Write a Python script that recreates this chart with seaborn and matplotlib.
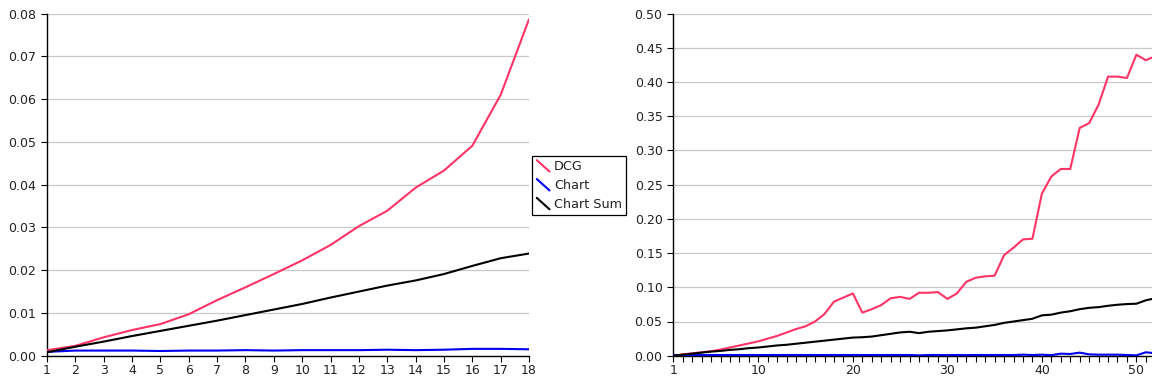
import matplotlib
matplotlib.use("Agg")
import matplotlib.pyplot as plt
from matplotlib.legend_handler import HandlerBase
from matplotlib.lines import Line2D
from matplotlib.ticker import FormatStrFormatter, FixedLocator, MultipleLocator
import pandas as pd
import seaborn as sns

# ---- data: short run (left panel) ----
short_x = list(range(1, 19))
short_dcg = [0.0013, 0.0023, 0.0043, 0.0060, 0.0074, 0.0097, 0.0130, 0.0160, 0.0191,
             0.0223, 0.0259, 0.0303, 0.0339, 0.0393, 0.0433, 0.0491, 0.0610, 0.0787]
short_chart = [0.0009, 0.0012, 0.0012, 0.0012, 0.0011, 0.0012, 0.0012, 0.0013, 0.0012,
               0.0013, 0.0013, 0.0013, 0.0014, 0.0013, 0.0014, 0.0016, 0.0016, 0.0015]
short_sum = [0.0008, 0.0021, 0.0033, 0.0046, 0.0058, 0.0070, 0.0082, 0.0095, 0.0108,
             0.0121, 0.0136, 0.0150, 0.0164, 0.0176, 0.0191, 0.0210, 0.0228, 0.0239]

# ---- data: long run (right panel) ----
long_x = list(range(1, 53))
long_dcg = [0.000, 0.002, 0.0035, 0.005, 0.0065, 0.009, 0.012, 0.015, 0.018, 0.021,
            0.025, 0.029, 0.034, 0.039, 0.043, 0.050, 0.061, 0.079, 0.085, 0.091,
            0.063, 0.068, 0.074, 0.084, 0.086, 0.083, 0.092, 0.092, 0.093, 0.083,
            0.091, 0.108, 0.114, 0.116, 0.117, 0.147, 0.158, 0.170, 0.171, 0.237,
            0.262, 0.273, 0.273, 0.333, 0.340, 0.367, 0.408, 0.408, 0.406, 0.440,
            0.432, 0.438]
long_chart = [0.0005, 0.001, 0.001, 0.001, 0.001, 0.001, 0.001, 0.001, 0.001, 0.001,
              0.001, 0.001, 0.001, 0.001, 0.001, 0.001, 0.001, 0.001, 0.001, 0.001,
              0.001, 0.001, 0.001, 0.001, 0.001, 0.001, 0.0005, 0.001, 0.001, 0.0008,
              0.001, 0.0008, 0.001, 0.001, 0.001, 0.001, 0.001, 0.0015, 0.001, 0.0015,
              0.0008, 0.003, 0.0025, 0.0045, 0.002, 0.0015, 0.0015, 0.0015, 0.001, 0.0005,
              0.005, 0.0035]
long_sum = [0.000, 0.0015, 0.003, 0.0045, 0.006, 0.007, 0.0085, 0.0095, 0.011, 0.012,
            0.0135, 0.015, 0.016, 0.0175, 0.019, 0.0205, 0.022, 0.0235, 0.025, 0.0265,
            0.027, 0.028, 0.030, 0.032, 0.034, 0.035, 0.033, 0.035, 0.036, 0.037,
            0.0385, 0.040, 0.041, 0.043, 0.045, 0.048, 0.050, 0.052, 0.054, 0.059,
            0.060, 0.063, 0.065, 0.068, 0.070, 0.071, 0.073, 0.0745, 0.0755, 0.076,
            0.081, 0.084]

series_names = ["DCG", "Chart", "Chart Sum"]
colors = {"DCG": "#ff3366", "Chart": "#0000ee", "Chart Sum": "#000000"}


def long_form(x, dcg, chart, total):
    return pd.DataFrame({
        "x": list(x) * 3,
        "value": list(dcg) + list(chart) + list(total),
        "series": ["DCG"] * len(x) + ["Chart"] * len(x) + ["Chart Sum"] * len(x),
    })


short_df = long_form(short_x, short_dcg, short_chart, short_sum)
long_df = long_form(long_x, long_dcg, long_chart, long_sum)

sns.set_theme(style="white", rc={
    "xtick.bottom": True, "ytick.left": True,
    "xtick.direction": "out", "ytick.direction": "out",
    "xtick.major.size": 4, "xtick.minor.size": 4,
    "ytick.major.size": 4.5, "ytick.minor.size": 0,
    "xtick.major.width": 0.8, "xtick.minor.width": 0.8,
    "ytick.major.width": 0.8,
    "xtick.color": "#000000", "ytick.color": "#000000",
    "xtick.labelcolor": "#222222", "ytick.labelcolor": "#222222",
    "xtick.labelsize": 9, "ytick.labelsize": 9,
    "xtick.major.pad": 2, "xtick.minor.pad": 2, "ytick.major.pad": 3.2,
})
plt.rcParams["font.family"] = ["DejaVu Sans"]

fig = plt.figure(figsize=(11.52, 3.84), dpi=100)
W, H = 1152, 384
ax1 = fig.add_axes([47 / W, (H - 355.7) / H, 482 / W, 342 / H])
ax2 = fig.add_axes([673.3 / W, (H - 355.7) / H, 482 / W, 342 / H])

for ax, df in ((ax1, short_df), (ax2, long_df)):
    sns.lineplot(data=df, x="x", y="value", hue="series", hue_order=series_names,
                 palette=colors, linewidth=1.5, legend=False, ax=ax, zorder=3)
    ax.set_xlabel("")
    ax.set_ylabel("")
    ax.grid(axis="y", color="#c8c8c8", linewidth=0.9)
    ax.grid(axis="x", visible=False)
    ax.set_axisbelow(True)
    for side in ("top", "right"):
        ax.spines[side].set_visible(False)
    for side in ("left", "bottom"):
        ax.spines[side].set_color("#000000")
        ax.spines[side].set_linewidth(1.0)
    ax.yaxis.set_major_formatter(FormatStrFormatter("%.2f"))

ax1.set_xlim(1, 18)
ax1.set_ylim(0, 0.08)
ax1.xaxis.set_major_locator(FixedLocator(short_x))
ax1.yaxis.set_major_locator(MultipleLocator(0.01))

ax2.set_xlim(1, 52)
ax2.set_ylim(0, 0.5)
ax2.xaxis.set_major_locator(FixedLocator([1, 10, 20, 30, 40, 50]))
ax2.xaxis.set_minor_locator(MultipleLocator(1))
ax2.yaxis.set_major_locator(MultipleLocator(0.05))

for ax in (ax1, ax2):
    ax.tick_params(axis="x", which="both", bottom=True, length=4, width=0.8,
                   color="#000000")
    ax.tick_params(axis="y", which="major", left=True, length=4.5, width=0.8,
                   color="#000000")


class DiagonalHandler(HandlerBase):
    """Legend key drawn as a short falling diagonal stroke."""

    def create_artists(self, legend, orig_handle, xdescent, ydescent,
                       width, height, fontsize, trans):
        x0, y0 = -xdescent, -ydescent
        line = Line2D([x0, x0 + width], [y0 + height, y0],
                      color=orig_handle.get_color(), linewidth=1.5,
                      transform=trans)
        return [line]


handles = [Line2D([], [], color=colors[n]) for n in series_names]
leg = fig.legend(handles, series_names, loc="upper left",
                 bbox_to_anchor=(532.3 / W, 1 - 155.7 / H),
                 bbox_transform=fig.transFigure, borderaxespad=0,
                 handler_map={Line2D: DiagonalHandler()},
                 handlelength=1.0, handleheight=1.0, handletextpad=0.35,
                 labelspacing=0.45, borderpad=0.35, fontsize=9.2,
                 frameon=True, fancybox=False, framealpha=1)
leg.get_frame().set_edgecolor("#000000")
leg.get_frame().set_linewidth(0.9)
for t in leg.get_texts():
    t.set_color("#222222")

fig.savefig("out.png", dpi=100)
